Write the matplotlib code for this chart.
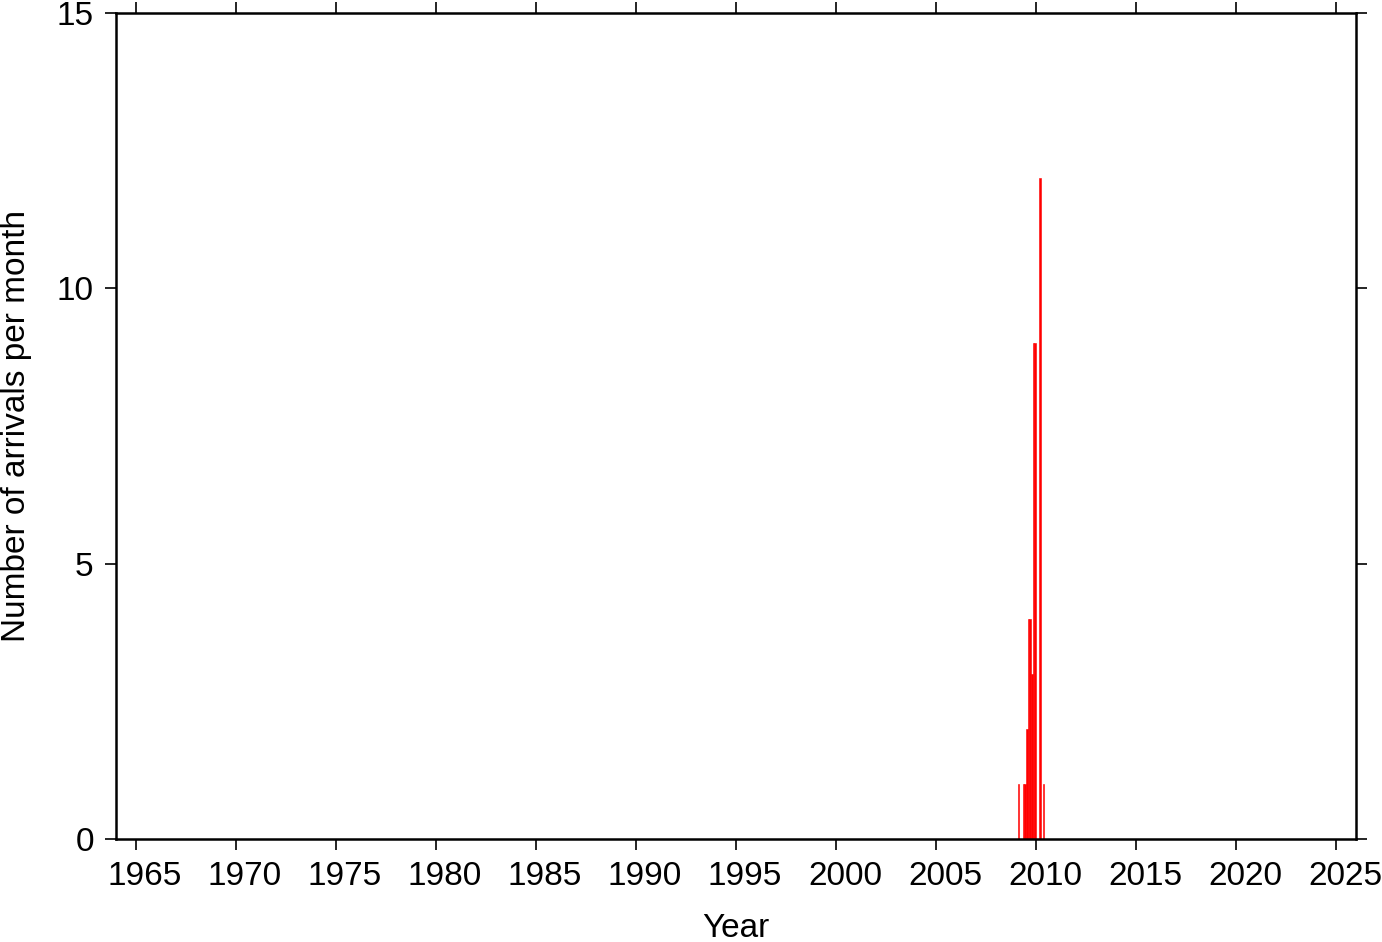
import matplotlib
matplotlib.use("Agg")
import matplotlib.pyplot as plt
import matplotlib.transforms as mtransforms

# monthly arrival counts (year, month, count); all other months are zero
years = [2009, 2009, 2009, 2009, 2009, 2009, 2009, 2009, 2009, 2010, 2010]
months = [2, 5, 6, 7, 8, 9, 10, 11, 12, 3, 5]
counts = [1, 1, 1, 2, 4, 4, 3, 9, 9, 12, 1]

xticks = list(range(1965, 2026, 5))
yticks = [0, 5, 10, 15]

plt.rcParams["font.family"] = ["Liberation Sans", "DejaVu Sans"]

fig = plt.figure(figsize=(13.82, 9.42), dpi=100)
ax = fig.add_axes([116 / 1382, 1 - 839 / 942, 1240 / 1382, 826 / 942])

t = [y + (m - 1) / 12 for y, m in zip(years, months)]
ax.bar(t, counts, width=1 / 12, align="edge", color="red",
       edgecolor="red", linewidth=0.4)

ax.set_xlim(1964, 2026)
ax.set_ylim(0, 15)
ax.set_xticks(xticks)
ax.set_yticks(yticks)
ax.tick_params(axis="both", direction="out", length=8, width=1.2,
               labelsize=24, pad=8, top=True, right=True,
               labeltop=False, labelright=False)
for s in ax.spines.values():
    s.set_linewidth(1.8)

# year labels sit a little right of their ticks in the original
shift = mtransforms.ScaledTranslation(0.09, 0, fig.dpi_scale_trans)
for lab in ax.get_xticklabels():
    lab.set_transform(lab.get_transform() + shift)

ax.set_xlabel("Year", fontsize=24, labelpad=15)
ax.set_ylabel("Number of arrivals per month", fontsize=24, labelpad=18)

fig.savefig("out.png", dpi=100)
